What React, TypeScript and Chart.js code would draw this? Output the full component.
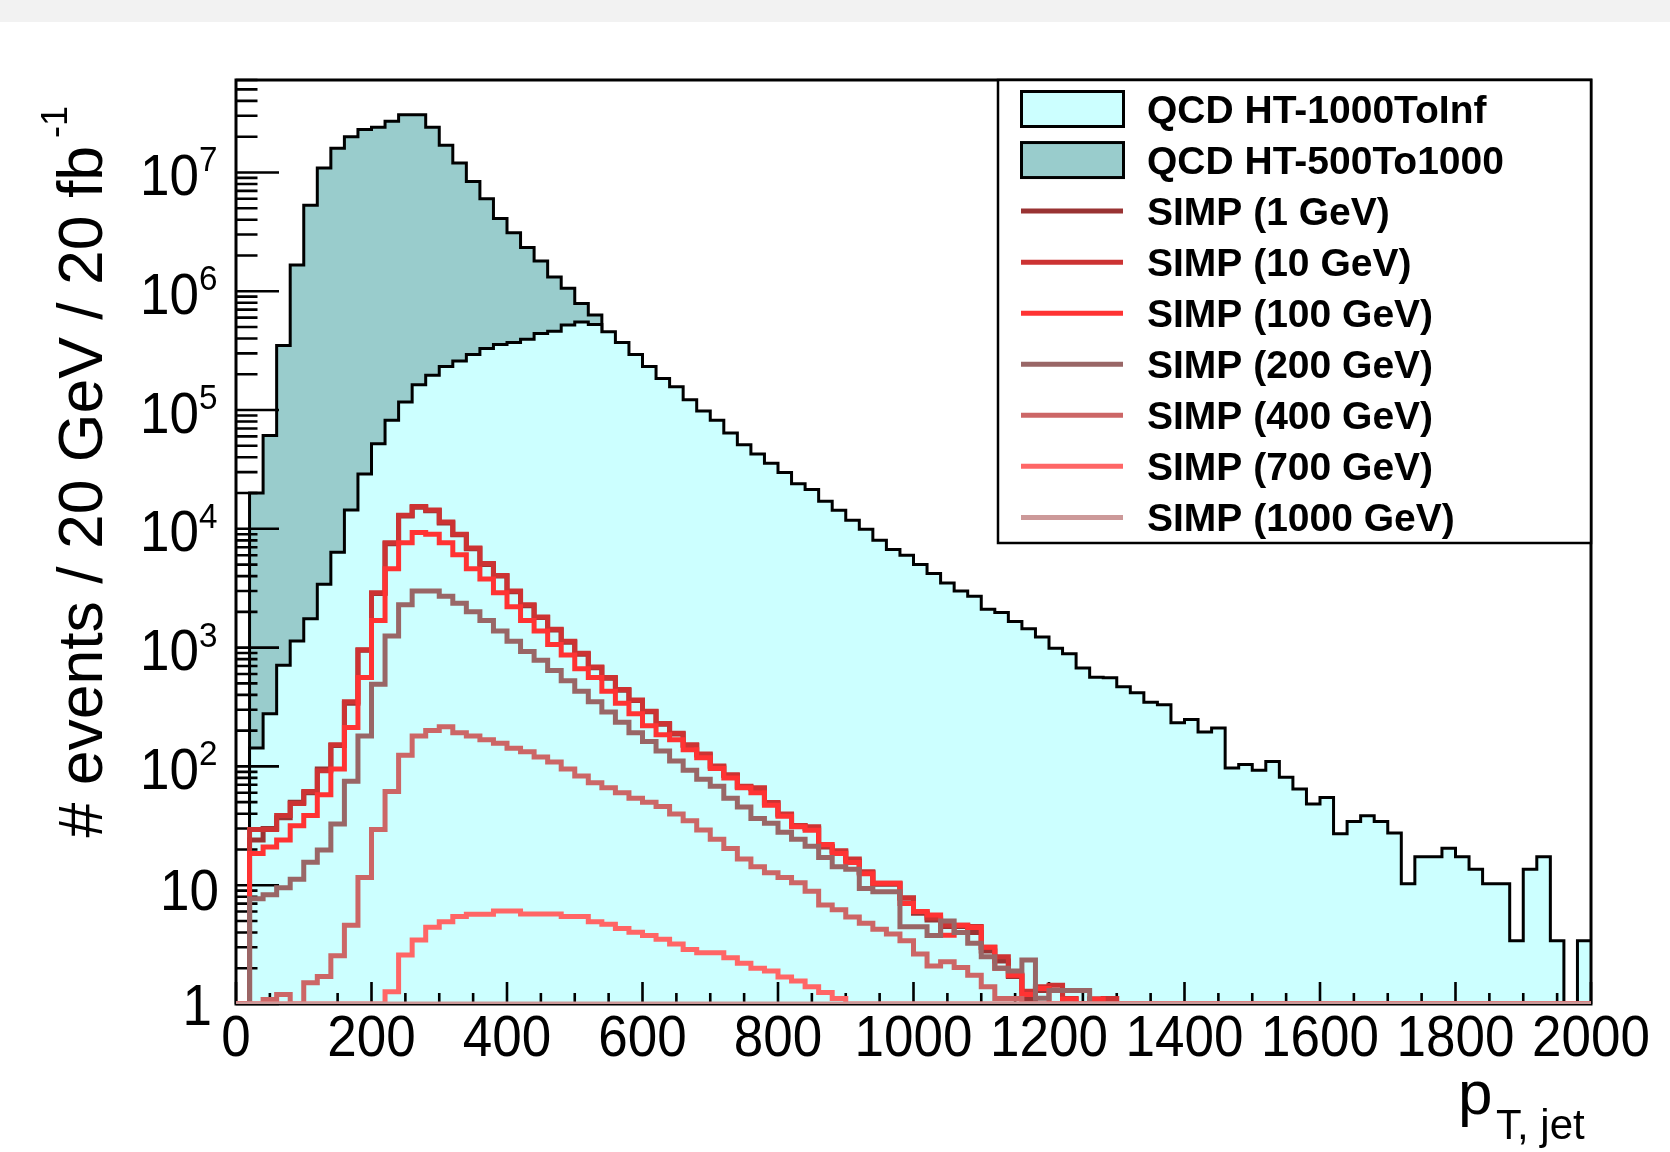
import React, { useEffect, useRef } from 'react';
import { Chart, registerables } from 'chart.js';

Chart.register(...registerables);

// ---------- axis definitions ----------
const BIN_WIDTH = 20; // GeV per bin
const N_BINS = 100;
const X_MIN = 0;
const X_MAX = 2000;
const Y_MIN = 1;
const Y_MAX = 6e7;
const X_MAJOR_STEP = 200;
const X_MINOR_STEP = 50;
const xTickLabels = ['0', '200', '400', '600', '800', '1000', '1200', '1400', '1600', '1800', '2000'];
const yDecadeExponents = [0, 1, 2, 3, 4, 5, 6, 7];

// ---------- series (events per 20 GeV bin, bins from 0 GeV) ----------
const qcdHT1000ToInf = [
  0, 143, 278, 709, 1135, 1750, 3420, 6340, 14400, 29000,
  52000, 82000, 117000, 163000, 196000, 233000, 259000, 293000, 329000, 356000,
  370000, 394000, 440000, 460000, 520000, 550000, 525000, 455000, 370000, 293000,
  233000, 184000, 157000, 122000, 98000, 82000, 64000, 51000, 42600, 35600,
  29800, 23900, 21400, 17100, 14300, 11800, 9900, 8000, 6700, 6000,
  5000, 4200, 3500, 3000, 2700, 2100, 1980, 1660, 1440, 1230,
  988, 887, 673, 563, 558, 469, 417, 347, 330, 233,
  248, 195, 211, 97, 104, 93, 110, 81, 64.6, 48.3,
  54.8, 27.1, 34.4, 38.5, 34.4, 27.5, 10.3, 17.4, 17.4, 20.5,
  17.4, 13.6, 10.3, 10.3, 3.4, 13.6, 17.4, 3.4, 0, 3.4,
];

const qcdHT500To1000 = [
  0, 20000, 61000, 350000, 1660000, 5300000, 10900000, 16000000, 20000000, 23000000,
  24000000, 27000000, 30600000, 30600000, 24000000, 16900000, 12000000, 8400000, 6000000, 4100000,
  3100000, 2330000, 1800000, 1320000, 1060000, 790000, 630000, 300000, 150000, 70000,
  30000, 12000, 5000, 2000, 800, 300,
];

const simp1GeV = [
  0, 24, 30, 37, 50, 60, 95, 150, 340, 950,
  2850, 7500, 12800, 15200, 14200, 11200, 8900, 6800, 5000, 4000,
  2950, 2250, 1790, 1410, 1110, 880, 676, 553, 438, 358,
  288, 226, 187, 150, 125, 99, 84, 67, 65, 49,
  39, 31.5, 30, 21, 19, 16, 12.8, 10.2, 10.2, 7.8,
  5.8, 5.1, 4.5, 4.5, 4, 2.8, 2.3, 1.7, 1.1, 1.3,
  1.3, 0, 0, 1.1,
];

const simp10GeV = [
  0, 29.5, 29.5, 38.6, 48.8, 61.6, 92, 152, 351, 959,
  2890, 7630, 13000, 15400, 14400, 11400, 9020, 6900, 5100, 4040,
  2990, 2290, 1810, 1430, 1130, 896, 686, 561, 444, 363,
  292, 230, 190, 152, 127, 101, 85, 68, 66, 49.8,
  39.8, 31.8, 31, 21.3, 19.5, 16.6, 13, 10.4, 10.4, 7.8,
  6, 5.3, 4.6, 4.6, 4.5, 3, 2.5, 1.75, 1.28, 1.4,
  1.44, 1.11, 0, 0, 1.11,
];

const simp100GeV = [
  0, 18.5, 21, 24, 31.6, 38.6, 57.7, 95, 213, 561,
  1690, 4620, 7630, 9330, 9020, 7630, 6040, 4620, 3780, 2890,
  2210, 1690, 1380, 1060, 867, 663, 561, 430, 340, 278,
  220, 185, 168, 138, 118, 96, 80, 66, 60, 47,
  38, 31, 29, 22, 18.5, 15.5, 12.5, 10.4, 10.4, 7,
  6, 5.6, 3.8, 4.6, 4.4, 3, 2, 1.75, 1.2, 1.35,
  0, 1.1, 0, 1.1,
];

const simp200GeV = [
  0, 7.7, 8.3, 9.5, 11.2, 15.6, 19.8, 32.7, 75, 180,
  491, 1250, 2290, 2990, 2990, 2700, 2360, 2000, 1690, 1380,
  1130, 927, 784, 641, 525, 430, 351, 287, 235, 192,
  162, 135, 111, 93, 78, 68, 54, 45.5, 36.4, 33.3,
  27.9, 24.4, 21.3, 17.1, 14.3, 13.6, 9.4, 8.8, 8.8, 4.47,
  4.47, 3.78, 5, 4, 3.25, 2.5, 2, 1.9, 2.35, 1.12,
  1.3, 1.3, 1.3,
];

const simp400GeV = [
  0, 0, 1.09, 1.2, 0, 1.51, 1.7, 2.55, 4.6, 11.6,
  29.5, 61.6, 124, 180, 201, 216, 192, 180, 168, 157,
  142, 133, 120, 109, 95, 83, 73, 66, 60, 54,
  50, 46, 39.8, 34.8, 29.1, 24.4, 20.4, 16.6, 14.3, 12.7,
  11.6, 10.5, 8.9, 6.8, 6.2, 5.4, 4.78, 4.25, 3.88, 3.41,
  2.64, 2.09, 2.27, 2.03, 1.75, 1.4, 1.11, 1.11,
];

const simp700GeV = [
  0, 0, 0, 0, 0, 0, 0, 0, 0, 0,
  0, 1.27, 2.58, 3.45, 4.42, 4.93, 5.44, 5.69, 5.69, 6.07,
  6.07, 5.73, 5.73, 5.73, 5.44, 5.44, 4.93, 4.69, 4.33, 4.01,
  3.78, 3.5, 3.2, 2.87, 2.7, 2.7, 2.45, 2.2, 2, 1.9,
  1.69, 1.56, 1.4, 1.25, 1.11,
];

// all below the axis floor (drawn along y = 1, as ROOT does)
const simp1000GeV = [
  0, 0, 0, 0, 0, 0, 0, 0, 0, 0,
  0, 0, 0, 0, 0, 0.03, 0.05, 0.08, 0.1, 0.12,
  0.15, 0.17, 0.2, 0.22, 0.24, 0.25, 0.27, 0.3, 0.31, 0.3,
  0.32, 0.33, 0.35, 0.34, 0.33, 0.35, 0.36, 0.34, 0.33, 0.31,
  0.3, 0.28, 0.27, 0.25, 0.22, 0.2, 0.18, 0.15, 0.12, 0.1,
  0.08, 0.06, 0.05, 0.03, 0.02,
];

const legendLabels = [
  'QCD HT-1000ToInf',
  'QCD HT-500To1000',
  'SIMP (1 GeV)',
  'SIMP (10 GeV)',
  'SIMP (100 GeV)',
  'SIMP (200 GeV)',
  'SIMP (400 GeV)',
  'SIMP (700 GeV)',
  'SIMP (1000 GeV)',
];

const COL_CYAN = '#ccffff';
const COL_TEAL = '#99cccc';
const simpColors = ['#993333', '#cc3333', '#ff3333', '#996666', '#cc6666', '#ff6666', '#cc9999'];

const FONT = "'Liberation Sans', Arial, Helvetica, sans-serif";

function histPoints(values: number[]) {
  const pts: { x: number; y: number }[] = [{ x: X_MIN, y: Y_MIN }];
  for (let i = 0; i < N_BINS; i++) {
    const v = values[i] ?? 0;
    pts.push({ x: X_MIN + i * BIN_WIDTH, y: Math.max(v, Y_MIN) });
  }
  const last = values[N_BINS - 1] ?? 0;
  pts.push({ x: X_MAX, y: Math.max(last, Y_MIN) });
  pts.push({ x: X_MAX, y: Y_MIN });
  return pts;
}

function lineDs(values: number[], color: string) {
  return {
    data: histPoints(values),
    borderColor: color,
    borderWidth: 5,
    fill: false,
    stepped: true,
    pointRadius: 0,
    borderJoinStyle: 'miter',
    borderCapStyle: 'butt',
  };
}

function fillDs(values: number[], color: string) {
  return {
    data: histPoints(values),
    borderColor: '#000000',
    borderWidth: 3,
    backgroundColor: color,
    fill: 'start',
    stepped: true,
    pointRadius: 0,
    borderJoinStyle: 'miter',
    borderCapStyle: 'butt',
  };
}

// dataset index 0 is drawn last (on top)
const CYAN_INDEX = 7;

function drawScaledText(ctx: CanvasRenderingContext2D, text: string, x: number, y: number, font: string, align: CanvasTextAlign, sx = 1) {
  ctx.save();
  ctx.translate(x, y);
  ctx.scale(sx, 1);
  ctx.font = font;
  ctx.textAlign = align;
  ctx.textBaseline = 'alphabetic';
  ctx.fillStyle = '#000000';
  ctx.fillText(text, 0, 0);
  ctx.restore();
}

const rootPlugin = {
  id: 'rootStyle',
  beforeDraw(chart: any) {
    const ctx = chart.ctx;
    ctx.save();
    ctx.fillStyle = '#ffffff';
    ctx.fillRect(0, 0, chart.width, chart.height);
    ctx.fillStyle = '#f2f2f2';
    ctx.fillRect(0, 0, chart.width, 22);
    ctx.restore();
  },
  beforeDatasetsDraw(chart: any) {
    const { ctx, chartArea: a } = chart;
    ctx.save();
    ctx.strokeStyle = '#000000';
    ctx.lineWidth = 3;
    ctx.strokeRect(a.left, a.top, a.right - a.left, a.bottom - a.top);
    ctx.restore();
  },
  afterDatasetDraw(chart: any, args: any) {
    if (args.index !== CYAN_INDEX) return;
    const { ctx, chartArea: a, scales } = chart;
    const xs = scales.x;
    const ys = scales.y;
    ctx.save();
    ctx.strokeStyle = '#000000';
    ctx.lineWidth = 2.6;
    ctx.lineCap = 'butt';
    ctx.beginPath();
    for (let v = X_MIN; v <= X_MAX; v += X_MINOR_STEP) {
      const px = xs.getPixelForValue(v);
      const len = v % X_MAJOR_STEP === 0 ? 22 : 11;
      ctx.moveTo(px, a.bottom);
      ctx.lineTo(px, a.bottom - len);
    }
    for (const e of yDecadeExponents) {
      for (let k = 1; k <= 9; k++) {
        const v = k * Math.pow(10, e);
        if (v > Y_MAX) break;
        const py = ys.getPixelForValue(v);
        const len = k === 1 ? 43 : 21.5;
        ctx.moveTo(a.left, py);
        ctx.lineTo(a.left + len, py);
      }
    }
    ctx.stroke();
    ctx.restore();
  },
  afterDraw(chart: any) {
    const { ctx, chartArea: a, scales } = chart;
    const xs = scales.x;
    const ys = scales.y;
    const tickFont = `57px ${FONT}`;
    const supFont = `35px ${FONT}`;

    // x tick labels
    xTickLabels.forEach((lab) => {
      const px = xs.getPixelForValue(Number(lab));
      drawScaledText(ctx, lab, px, 1056, tickFont, 'center', 0.93);
    });

    // y tick labels
    yDecadeExponents.forEach((e) => {
      const py = ys.getPixelForValue(Math.pow(10, e));
      if (e === 0) {
        drawScaledText(ctx, '1', 212, py + 21, tickFont, 'right', 0.93);
      } else if (e === 1) {
        drawScaledText(ctx, '10', 219, py + 25, tickFont, 'right', 0.93);
      } else {
        drawScaledText(ctx, '10', 199, py + 22.5, tickFont, 'right', 0.93);
        drawScaledText(ctx, String(e), 199, py - 1, supFont, 'left', 0.95);
      }
    });

    // x axis title
    drawScaledText(ctx, 'p', 1458, 1114, `62px ${FONT}`, 'left');
    drawScaledText(ctx, 'T, jet', 1496, 1139, `42px ${FONT}`, 'left');

    // y axis title (rotated)
    ctx.save();
    ctx.translate(102, 146);
    ctx.rotate(-Math.PI / 2);
    ctx.fillStyle = '#000000';
    ctx.textBaseline = 'alphabetic';
    ctx.font = `62.5px ${FONT}`;
    ctx.textAlign = 'right';
    ctx.fillText('# events / 20 GeV / 20 fb', 0, 0);
    ctx.font = `36px ${FONT}`;
    ctx.textAlign = 'left';
    ctx.fillText('-1', 8, -35);
    ctx.restore();

    // legend
    const lx = 998;
    const ly = a.top;
    const lw = a.right - lx;
    const lh = 543 - a.top;
    ctx.save();
    ctx.fillStyle = '#ffffff';
    ctx.fillRect(lx, ly, lw, lh);
    ctx.strokeStyle = '#000000';
    ctx.lineWidth = 2.5;
    ctx.strokeRect(lx, ly, lw, lh);
    const rowH = 51.05;
    legendLabels.forEach((lab, i) => {
      const cy = 109 + i * rowH;
      if (i < 2) {
        ctx.fillStyle = i === 0 ? COL_CYAN : COL_TEAL;
        ctx.fillRect(1021.5, cy - 17.5, 102, 35);
        ctx.strokeStyle = '#000000';
        ctx.lineWidth = 3;
        ctx.strokeRect(1021.5, cy - 17.5, 102, 35);
      } else {
        ctx.strokeStyle = simpColors[i - 2];
        ctx.lineWidth = 5;
        ctx.beginPath();
        ctx.moveTo(1021, cy);
        ctx.lineTo(1123, cy);
        ctx.stroke();
      }
      drawScaledText(ctx, lab, 1147, cy + 14, `bold 39px ${FONT}`, 'left');
    });
    ctx.restore();
  },
};

export default function App() {
  const canvasRef = useRef<HTMLCanvasElement | null>(null);

  useEffect(() => {
    const canvas = canvasRef.current;
    if (!canvas) return;
    const datasets: any[] = [
      lineDs(simp1000GeV, simpColors[6]),
      lineDs(simp700GeV, simpColors[5]),
      lineDs(simp400GeV, simpColors[4]),
      lineDs(simp200GeV, simpColors[3]),
      lineDs(simp100GeV, simpColors[2]),
      lineDs(simp10GeV, simpColors[1]),
      lineDs(simp1GeV, simpColors[0]),
      fillDs(qcdHT1000ToInf, COL_CYAN),
      fillDs(qcdHT500To1000, COL_TEAL),
    ];
    const chart = new Chart(canvas, {
      type: 'line',
      data: { datasets },
      options: {
        animation: false,
        responsive: false,
        maintainAspectRatio: false,
        devicePixelRatio: 1,
        events: [],
        layout: { padding: { left: 236, top: 80, right: 79, bottom: 148 } },
        plugins: { legend: { display: false }, tooltip: { enabled: false } },
        scales: {
          x: { type: 'linear', min: X_MIN, max: X_MAX, display: false },
          y: { type: 'logarithmic', min: Y_MIN, max: Y_MAX, display: false },
        },
        elements: { point: { radius: 0 }, line: { tension: 0 } },
      } as any,
      plugins: [rootPlugin as any],
    });
    return () => chart.destroy();
  }, []);

  return (
    <div style={{ position: 'absolute', left: 0, top: 0, width: 1670, height: 1152, background: '#ffffff' }}>
      <canvas ref={canvasRef} width={1670} height={1152} style={{ display: 'block', width: 1670, height: 1152 }} />
    </div>
  );
}
